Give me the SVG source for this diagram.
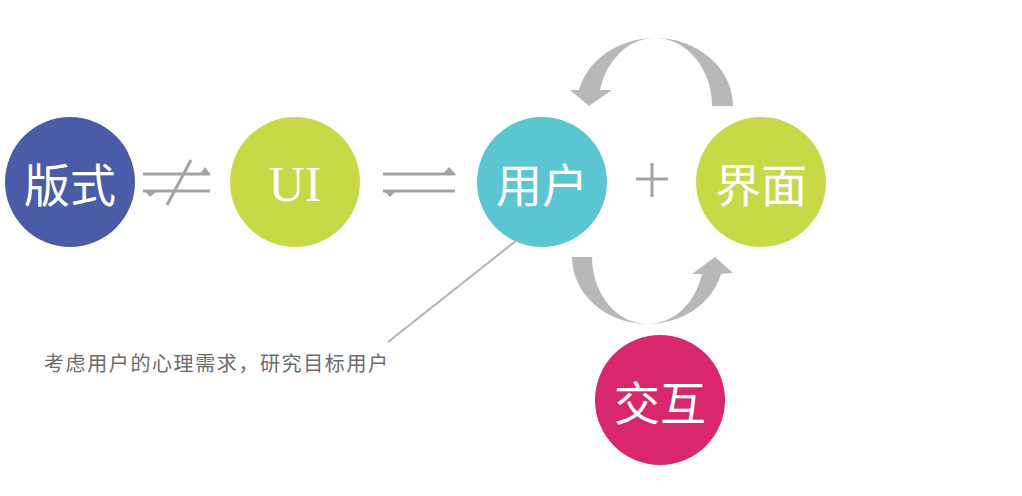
<svg xmlns="http://www.w3.org/2000/svg" width="1022" height="496" viewBox="0 0 1022 496">
<style>
.t{font-family:"Noto Sans CJK SC","Liberation Sans",sans-serif;font-size:46px;fill:#fff;text-anchor:middle;dominant-baseline:central}
.ui{font-family:"Liberation Serif",serif;font-size:50px;fill:#fff;text-anchor:middle;dominant-baseline:central}
.ln{stroke:#a3a3a6;stroke-width:3;fill:none}
.tri{fill:#a3a3a6}
.arc{fill:#b7b8ba}
</style>
<rect width="1022" height="496" fill="#fff"/>
<g id="node-banshi"><circle cx="70" cy="182" r="65" fill="#4a5ba8"/><text class="t" x="70" y="182">版式</text></g>
<g id="node-ui"><circle cx="295" cy="182" r="65" fill="#c8d948"/><text class="ui" x="295" y="184">UI</text></g>
<g id="node-yonghu"><circle cx="542" cy="182" r="65" fill="#5bc6d1"/><text class="t" x="542" y="182">用户</text></g>
<g id="node-jiemian"><circle cx="761" cy="182" r="65" fill="#c8d948"/><text class="t" x="761" y="182">界面</text></g>
<g id="node-jiaohu"><circle cx="660" cy="400" r="65" fill="#d8276c"/><text class="t" x="660" y="400">交互</text></g>
<g id="connectors">
  <g id="not-equal">
    <line class="ln" x1="143" y1="174" x2="210" y2="174"/>
    <polygon class="tri" points="200,174 210,174 205,167"/>
    <line class="ln" x1="143" y1="191" x2="210" y2="191"/>
    <polygon class="tri" points="145,191 157,191 150,197"/>
    <line class="ln" x1="191" y1="160" x2="167" y2="205"/>
  </g>
  <g id="equal">
    <line class="ln" x1="383" y1="174" x2="455" y2="174"/>
    <polygon class="tri" points="442,175 456,175 449,167"/>
    <line class="ln" x1="383" y1="191" x2="455" y2="191"/>
    <polygon class="tri" points="383,190 397,190 390,197"/>
  </g>
  <g id="plus">
    <line class="ln" x1="636" y1="179" x2="668" y2="179"/>
    <line class="ln" x1="652" y1="163" x2="652" y2="197"/>
  </g>
  <path class="arc" d="M733,106 A78 68 0 0 0 655 38 A78 68 0 0 0 579 90 L570 90 L589 106 L612 90 L600 90 A57 68 0 0 1 655 38 A57 68 0 0 1 712 106 Z"/>
  <path class="arc" d="M572,257 A76 67 0 0 0 648 324 A76 67 0 0 0 721 274 L733 273 L715 257 L692 274 L702 274 A56 67 0 0 1 648 324 A56 67 0 0 1 592 257 Z"/>
  <line x1="517" y1="240" x2="388" y2="342" stroke="#b3b3b3" stroke-width="2"/>
</g>
<text x="44" y="371" font-family="'Noto Sans CJK SC','Liberation Sans',sans-serif" font-size="20" fill="#6b6b6b" textLength="344" lengthAdjust="spacing">考虑用户的心理需求，研究目标用户</text>
</svg>
